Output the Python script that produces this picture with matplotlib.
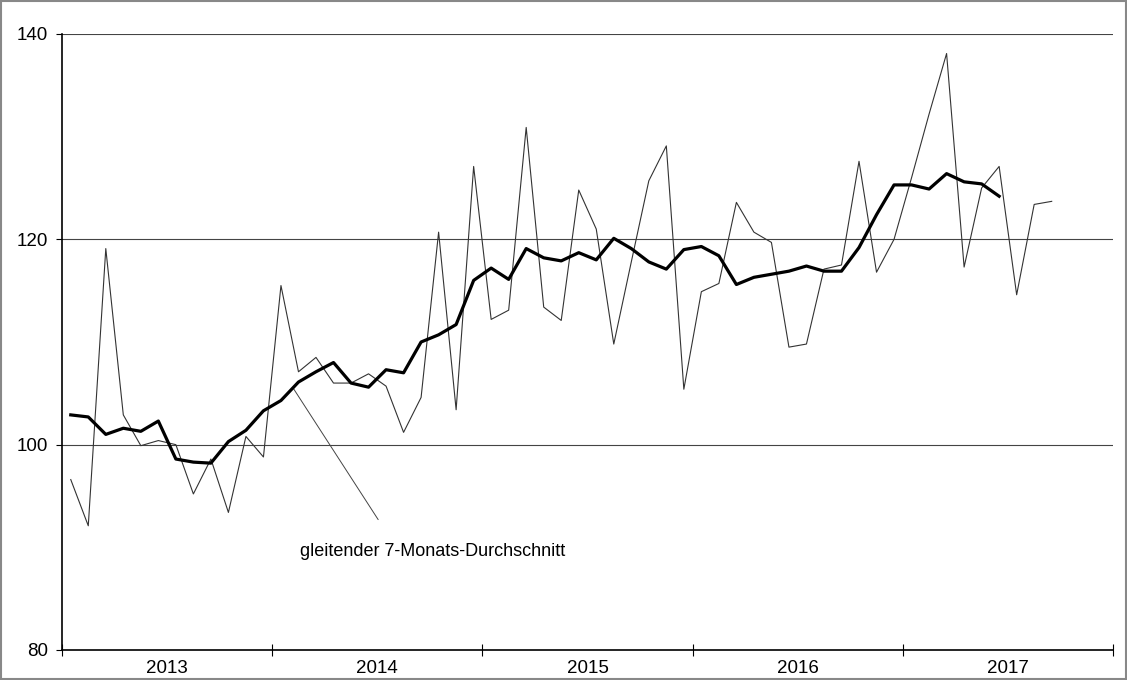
import matplotlib
matplotlib.use("Agg")
import matplotlib.pyplot as plt
from matplotlib.patches import Rectangle

plt.rcParams['font.family'] = ['Liberation Sans', 'DejaVu Sans']

# monthly values, Jan 2013 - Sep 2017
monthly = [96.6, 92.1, 119.1, 102.9, 99.9, 100.4, 100.0, 95.2, 98.6, 93.4, 100.8, 98.8,
           115.5, 107.1, 108.5, 106.0, 106.0, 106.9, 105.7, 101.2, 104.6, 120.7, 103.4, 127.1,
           112.2, 113.1, 130.9, 113.4, 112.1, 124.8, 121.0, 109.8, 117.8, 125.7, 129.1, 105.4,
           114.9, 115.7, 123.6, 120.7, 119.7, 109.5, 109.8, 117.1, 117.5, 127.6, 116.8, 120.0,
           126.0, 132.2, 138.1, 117.3, 125.0, 127.1, 114.6, 123.4, 123.7]

# 7-month moving average, Jan 2013 - Jun 2017
moving_avg = [102.9, 102.7, 101.0, 101.6, 101.3, 102.3, 98.6, 98.3, 98.2, 100.3, 101.4, 103.3,
              104.3, 106.1, 107.1, 108.0, 106.0, 105.6, 107.3, 107.0, 110.0, 110.7, 111.7, 116.0,
              117.2, 116.1, 119.1, 118.2, 117.9, 118.7, 118.0, 120.1, 119.1, 117.8, 117.1, 119.0,
              119.3, 118.4, 115.6, 116.3, 116.6, 116.9, 117.4, 116.9, 116.9, 119.2, 122.4, 125.3,
              125.3, 124.9, 126.4, 125.6, 125.4, 124.2]

years = ["2013", "2014", "2015", "2016", "2017"]
y_ticks = [80, 100, 120, 140]
label = "gleitender 7-Monats-Durchschnitt"

fig = plt.figure(figsize=(11.27, 6.80), dpi=100)
ax = fig.add_axes([62 / 1127, 30 / 680, (1113 - 62) / 1127, (650 - 34) / 680])

ax.plot(range(len(monthly)), monthly, color='#333333', lw=0.8, zorder=3)
ax.plot(range(len(moving_avg)), moving_avg, color='black', lw=2.3, zorder=4)

ax.set_xlim(-0.5, len(years) * 12 - 0.5)
ax.set_ylim(80, 140)

# gridlines at 100/120/140
for v in y_ticks[1:]:
    ax.axhline(v, color='#444444', lw=0.8, zorder=1)

ax.set_yticks(y_ticks)
ax.tick_params(axis='y', direction='out', length=4, width=0.8, pad=6, labelsize=13.5)

boundaries = [i * 12 - 0.5 for i in range(len(years) + 1)]
ax.set_xticks(boundaries)
ax.set_xticklabels([])
ax.tick_params(axis='x', which='major', direction='inout', length=8, width=0.8)
ax.set_xticks([i * 12 + 5.5 for i in range(len(years))], minor=True)
ax.set_xticklabels(years, minor=True)
ax.tick_params(axis='x', which='minor', length=0, pad=7, labelsize=13.5)

for s in ['top', 'right']:
    ax.spines[s].set_visible(False)
ax.spines['left'].set_linewidth(1.2)
ax.spines['bottom'].set_linewidth(1.2)

# label with pointer line
ax.annotate("", xy=(12.7, 105.5), xytext=(17.55, 92.7),
            arrowprops=dict(arrowstyle='-', color='#444444', lw=0.7, shrinkA=0, shrinkB=0))
ax.text(13.1, 89.6, label, fontsize=13, ha='left', va='center')

fig.patches.append(Rectangle((0.001, 0.001), 0.998, 0.997, transform=fig.transFigure,
                             fill=False, edgecolor='#888888', lw=1.5))

plt.savefig('out.png', dpi=100)
